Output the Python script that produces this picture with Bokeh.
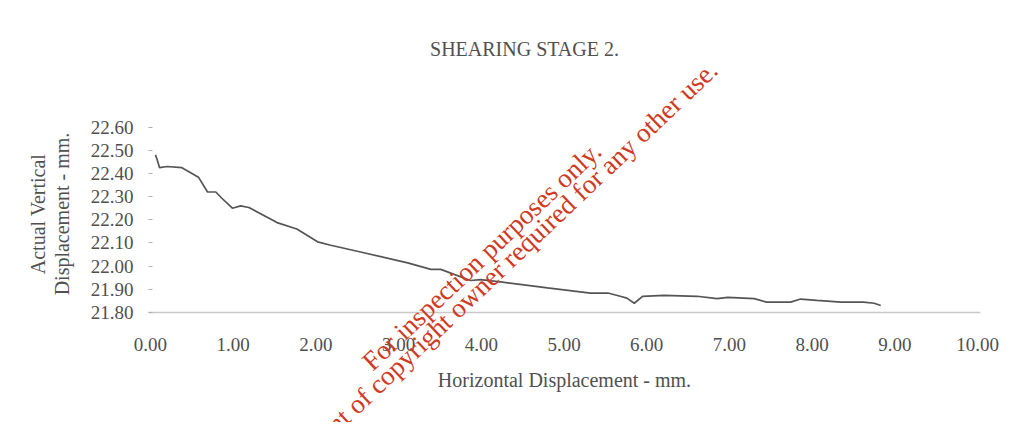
from bokeh.plotting import figure
from bokeh.models import Range1d, FixedTicker, NumeralTickFormatter, Label
from bokeh.layouts import column
from bokeh.embed import file_html
from bokeh.resources import INLINE
import math

# data
horiz_mm = [0.06, 0.08, 0.11, 0.20, 0.38, 0.58, 0.69, 0.79, 0.86, 0.99, 1.09, 1.19,
            1.53, 1.77, 2.02, 2.18, 2.58, 3.11, 3.39, 3.51, 3.87, 3.99, 4.23, 4.80,
            5.32, 5.53, 5.68, 5.76, 5.85, 5.95, 6.21, 6.61, 6.85, 6.98, 7.30, 7.45,
            7.74, 7.86, 8.06, 8.35, 8.62, 8.75, 8.83]
vert_mm = [22.48, 22.46, 22.425, 22.43, 22.425, 22.384, 22.32, 22.32, 22.294, 22.25,
           22.26, 22.253, 22.188, 22.16, 22.105, 22.09, 22.058, 22.014, 21.986, 21.986,
           21.938, 21.942, 21.932, 21.906, 21.884, 21.884, 21.87, 21.862, 21.84, 21.87,
           21.874, 21.87, 21.86, 21.865, 21.86, 21.845, 21.845, 21.858, 21.852, 21.845,
           21.845, 21.84, 21.83]
x_ticks = [0, 1, 2, 3, 4, 5, 6, 7, 8, 9, 10]
y_ticks = [21.8, 21.9, 22.0, 22.1, 22.2, 22.3, 22.4, 22.5, 22.6]

FONT = "Liberation Serif"
TXT = "#505050"
W, H = 1015, 422
FL, FR = 148, 980   # frame left / right in canvas px

p = figure(width=W, height=H, output_backend="svg", toolbar_location=None,
           x_range=Range1d(-0.024, 10.036), y_range=Range1d(21.80, 22.65),
           min_border_left=FL, min_border_right=W - FR, min_border_top=115,
           min_border_bottom=H - 312)
p.outline_line_color = None
p.grid.visible = False
p.background_fill_color = "white"
p.border_fill_color = "white"

p.line(horiz_mm, vert_mm, line_color="#555555", line_width=1.7)

# x axis
xa = p.xaxis[0]
xa.ticker = FixedTicker(ticks=x_ticks)
xa.formatter = NumeralTickFormatter(format="0.00")
xa.axis_line_color = "#c8c8c8"
xa.axis_line_width = 1.5
xa.major_tick_line_color = None
xa.minor_tick_line_color = None
xa.major_label_standoff = 19
xa.major_label_text_font = FONT
xa.major_label_text_font_size = "19px"
xa.major_label_text_color = TXT
xa.axis_label = "Horizontal Displacement - mm."
xa.axis_label_text_font = FONT
xa.axis_label_text_font_size = "20px"
xa.axis_label_text_font_style = "normal"
xa.axis_label_text_color = TXT
xa.axis_label_standoff = 15

# y axis
ya = p.yaxis[0]
ya.ticker = FixedTicker(ticks=y_ticks)
ya.formatter = NumeralTickFormatter(format="0.00")
ya.axis_line_color = None
ya.major_tick_in = 4
ya.major_tick_out = 0
ya.major_tick_line_color = "#b0b0b0"
ya.minor_tick_line_color = None
ya.major_label_standoff = 15
ya.major_label_text_font = FONT
ya.major_label_text_font_size = "19px"
ya.major_label_text_color = TXT
ya.axis_label = "Actual Vertical\nDisplacement - mm."
ya.axis_label_text_font = FONT
ya.axis_label_text_font_size = "20px"
ya.axis_label_text_font_style = "normal"
ya.axis_label_text_color = TXT
ya.axis_label_text_line_height = 1.1
ya.axis_label_standoff = 15

# title (canvas coordinates, in a side panel so it is not clipped)
p.add_layout(Label(x=524, y=48, x_units="canvas", y_units="canvas",
                   text="SHEARING STAGE 2.", text_font=FONT, text_font_size="20px",
                   text_color=TXT, text_align="center", text_baseline="middle"), "above")

# transparent overlay figure for the diagonal watermark (data units = canvas px)
ov = figure(width=W, height=H, output_backend="svg", toolbar_location=None,
            x_range=Range1d(FL, FR), y_range=Range1d(H, 0),
            x_axis_type=None, y_axis_type=None,
            min_border_left=FL, min_border_right=W - FR, min_border_top=0,
            min_border_bottom=0)
ov.outline_line_color = None
ov.grid.visible = False
ov.background_fill_alpha = 0
ov.border_fill_alpha = 0
ov.styles = {"position": "absolute", "top": "0px", "left": "0px", "z-index": "10",
             "pointer-events": "none"}
ov.stylesheets = [":host { position: absolute !important; top: 0px !important; "
                  "left: 0px !important; z-index: 10; }"]

ang = math.radians(43.5)
RED = "#d03a22"
ov.add_layout(Label(x=366, y=365, text="For inspection purposes only.", angle=ang,
                    text_font=FONT, text_font_size="27px", text_color=RED,
                    text_align="left", text_baseline="alphabetic"))
ov.add_layout(Label(x=713, y=65, text="Consent of copyright owner required for any other use.",
                    angle=ang, text_font=FONT, text_font_size="27px", text_color=RED,
                    text_align="right", text_baseline="alphabetic"))

layout = column(p, ov)
open("out.html", "w").write(file_html(layout, INLINE))
